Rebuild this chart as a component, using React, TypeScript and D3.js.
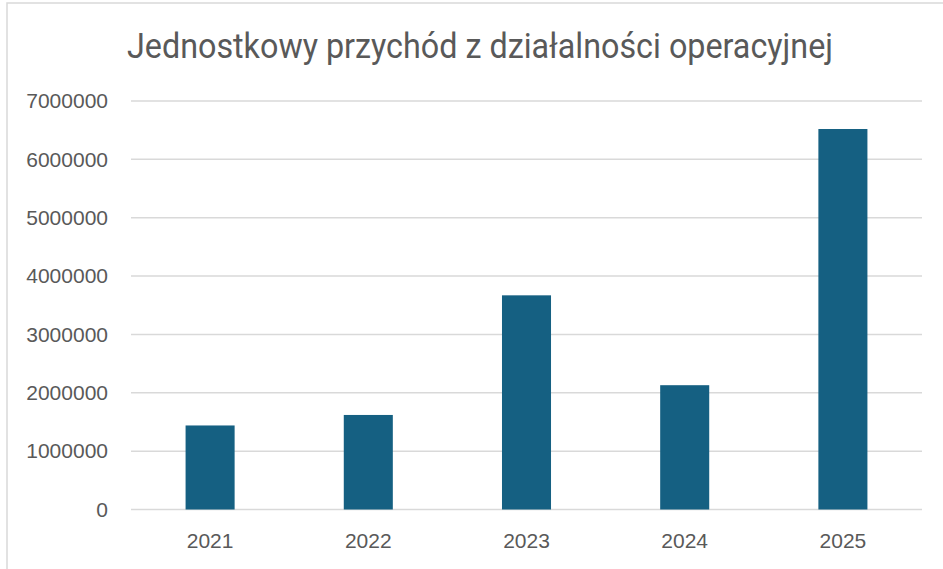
import React, { useRef, useEffect } from 'react';
import * as d3 from 'd3';

const years = ['2021', '2022', '2023', '2024', '2025'];
const revenue = [1440000, 1620000, 3670000, 2130000, 6520000];
const yTicks = [0, 1000000, 2000000, 3000000, 4000000, 5000000, 6000000, 7000000];
const title = 'Jednostkowy przychód z działalności operacyjnej';

export default function App() {
  const svgRef = useRef<SVGSVGElement>(null);

  useEffect(() => {
    const width = 943;
    const height = 569;
    const svg = d3.select(svgRef.current);
    svg.selectAll('*').remove();
    svg.attr('width', width).attr('height', height);

    // chart area border (cropped at right and bottom)
    svg.append('rect')
      .attr('x', 7).attr('y', 3)
      .attr('width', 950).attr('height', 580)
      .attr('fill', '#fff')
      .attr('stroke', '#d9d9d9')
      .attr('stroke-width', 1.5);

    const margin = { left: 131, right: 21 };

    const x = d3.scaleBand()
      .domain(years)
      .range([margin.left, width - margin.right])
      .padding(0);

    const y = d3.scaleLinear()
      .domain([0, 7000000])
      .range([509.5, 101]);

    // gridlines
    svg.append('g')
      .selectAll('line')
      .data(yTicks)
      .enter()
      .append('line')
      .attr('x1', margin.left)
      .attr('x2', width - margin.right)
      .attr('y1', d => y(d))
      .attr('y2', d => y(d))
      .attr('stroke', '#d9d9d9')
      .attr('stroke-width', 1.5);

    // bars
    const barFrac = 0.31;
    svg.append('g')
      .selectAll('rect')
      .data(revenue)
      .enter()
      .append('rect')
      .attr('x', (d, i) => (x(years[i]) as number) + x.bandwidth() * (1 - barFrac) / 2)
      .attr('width', x.bandwidth() * barFrac)
      .attr('y', d => y(d))
      .attr('height', d => y(0) - y(d))
      .attr('fill', '#156082');

    // y labels
    svg.append('g')
      .selectAll('text')
      .data(yTicks)
      .enter()
      .append('text')
      .attr('x', 108)
      .attr('y', d => y(d))
      .attr('dy', '0.35em')
      .attr('text-anchor', 'end')
      .attr('font-family', 'Liberation Sans, Arial, sans-serif')
      .attr('font-size', 21)
      .attr('fill', '#595959')
      .text(d => String(d));

    // x labels
    svg.append('g')
      .selectAll('text')
      .data(years)
      .enter()
      .append('text')
      .attr('x', d => (x(d) as number) + x.bandwidth() / 2)
      .attr('y', 548)
      .attr('text-anchor', 'middle')
      .attr('font-family', 'Liberation Sans, Arial, sans-serif')
      .attr('font-size', 21)
      .attr('fill', '#595959')
      .text(d => d);

    // title
    svg.append('text')
      .attr('x', 480)
      .attr('y', 58)
      .attr('text-anchor', 'middle')
      .attr('font-family', 'Roboto, sans-serif')
      .attr('font-size', 35)
      .attr('fill', '#595959')
      .attr('textLength', 706)
      .attr('lengthAdjust', 'spacingAndGlyphs')
      .text(title);
  }, []);

  return <svg ref={svgRef} style={{ position: 'absolute', left: 0, top: 0, display: 'block' }}></svg>;
}
